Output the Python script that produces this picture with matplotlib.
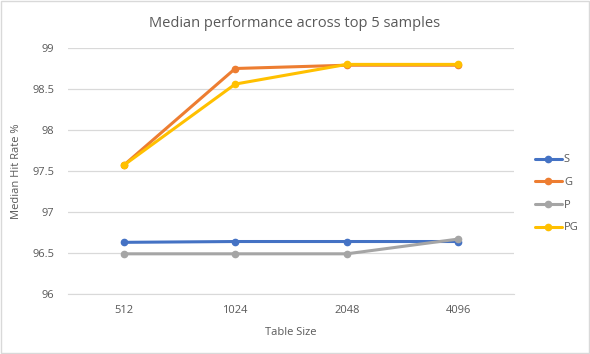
import matplotlib.pyplot as plt
from matplotlib.ticker import FormatStrFormatter

categories = ['512', '1024', '2048', '4096']
s_vals = [96.63, 96.64, 96.64, 96.64]
g_vals = [97.57, 98.75, 98.79, 98.79]
p_vals = [96.49, 96.49, 96.49, 96.67]
pg_vals = [97.57, 98.56, 98.80, 98.80]

plt.rcParams['font.family'] = ['Open Sans', 'DejaVu Sans']
txt = '#595959'

fig = plt.figure(figsize=(5.9, 3.54), dpi=100)
ax = fig.add_axes([68 / 590, 1 - 294 / 354, (514 - 68) / 590, (294 - 48) / 354])

x = range(len(categories))
series = [('S', s_vals, '#4472C4'), ('G', g_vals, '#ED7D31'),
          ('P', p_vals, '#A5A5A5'), ('PG', pg_vals, '#FFC000')]
for name, vals, col in series:
    ax.plot(x, vals, color=col, lw=2.2, marker='o', ms=4.5, label=name,
            solid_capstyle='round')

ax.set_xlim(-0.5, 3.5)
ax.set_ylim(96, 99)
ax.set_yticks([96, 96.5, 97, 97.5, 98, 98.5, 99])
ax.yaxis.set_major_formatter(FormatStrFormatter('%g'))
ax.set_xticks(list(x))
ax.set_xticklabels(categories)
ax.grid(axis='y', color='#d9d9d9', lw=0.9)
ax.set_axisbelow(True)
for sp in ['top', 'right', 'left']:
    ax.spines[sp].set_visible(False)
ax.spines['bottom'].set_color('#d9d9d9')
ax.tick_params(axis='both', length=0, colors=txt, labelsize=8)
ax.tick_params(axis='y', pad=10)
ax.tick_params(axis='x', pad=8)

ax.set_xlabel('Table Size', color=txt, fontsize=8, labelpad=8)
ax.set_ylabel('Median Hit Rate %', color=txt, fontsize=8, labelpad=7)
fig.suptitle('Median performance across top 5 samples', color=txt,
             fontsize=10.5, y=0.955)

leg = fig.legend(loc='center left', bbox_to_anchor=(525 / 590, 1 - 194 / 354),
                 frameon=False, fontsize=8, handlelength=2.4,
                 handletextpad=0.2, labelspacing=1.05, labelcolor=txt)

fig.patches.append(plt.Rectangle((0.001, 0.002), 0.997, 0.995, fill=False,
                                 edgecolor='#d9d9d9', lw=1,
                                 transform=fig.transFigure))
fig.savefig('out.png', dpi=100)
